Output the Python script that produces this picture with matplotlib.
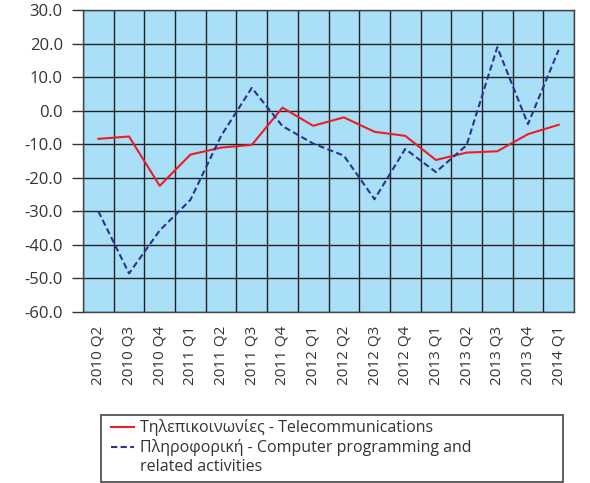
import matplotlib
matplotlib.use("Agg")
import matplotlib.pyplot as plt
from matplotlib.lines import Line2D
from matplotlib.patches import Rectangle
from matplotlib.ticker import FormatStrFormatter

plt.rcParams['font.family'] = ['Open Sans', 'DejaVu Sans']

quarters = ["2010 Q2", "2010 Q3", "2010 Q4", "2011 Q1", "2011 Q2", "2011 Q3",
            "2011 Q4", "2012 Q1", "2012 Q2", "2012 Q3", "2012 Q4", "2013 Q1",
            "2013 Q2", "2013 Q3", "2013 Q4", "2014 Q1"]
telecom = [-8.4, -7.7, -22.4, -13.1, -11.0, -10.2, 0.9, -4.5, -2.0, -6.3,
           -7.5, -14.7, -12.5, -12.1, -7.0, -4.2]
computer = [-30.0, -48.5, -35.7, -26.6, -7.5, 6.8, -4.6, -9.8, -13.4, -26.4,
            -11.4, -18.3, -10.3, 18.9, -4.0, 18.1]
telecom_label = "Τηλεπικοινωνίες - Telecommunications"
computer_label = ["Πληροφορική - Computer programming and",
                  "related activities"]
y_ticks = [30, 20, 10, 0, -10, -20, -30, -40, -50, -60]

RED = "#ee1c25"
NAVY = "#2e3192"
TXT = "#333333"
DASH = (0, (3, 1.6))

W, H = 590, 483
fig = plt.figure(figsize=(W / 100, H / 100), dpi=100)
ax = fig.add_axes([83 / W, 1 - 312 / H, (574 - 83) / W, (312 - 10) / H])
ax.set_facecolor("#aadff8")

n = len(quarters)
x = list(range(n))
ax.plot(x, telecom, color=RED, lw=1.5, zorder=3)
ax.plot(x, computer, color=NAVY, lw=1.5, ls=DASH, zorder=3)

ax.set_xlim(-0.5, n - 0.5)
ax.set_ylim(-60, 30)
ax.set_yticks(y_ticks)
ax.yaxis.set_major_formatter(FormatStrFormatter("%.1f"))
ax.set_xticks(x)
ax.set_xticklabels(quarters, rotation=90)

ax.grid(False)
for v in range(n + 1):
    ax.axvline(v - 0.5, color="#222222", lw=1.0, zorder=1)
for t in y_ticks:
    ax.axhline(t, color="#222222", lw=1.0, zorder=1)

for s in ax.spines.values():
    s.set_color("#444444")
    s.set_linewidth(1.0)

ax.tick_params(axis="y", length=8, width=1, color="#333333",
               labelsize=12, labelcolor=TXT, pad=6.5)
ax.tick_params(axis="x", which="both", length=0, labelsize=11,
               labelcolor=TXT, pad=10)


# legend box drawn in pixel positions of the figure
def fx(px):
    return px / W


def fy(py):
    return 1 - py / H


fig.add_artist(Rectangle((fx(100.5), fy(481.5)), fx(563) - fx(100.5),
                         fy(415) - fy(481.5), transform=fig.transFigure,
                         facecolor="white", edgecolor="#444444", lw=1.2))
rows = [(432, 427, RED, "-", telecom_label),
        (451.5, 446.5, NAVY, DASH, computer_label[0]),
        (471, None, None, None, computer_label[1])]
for base, hy, col, ls, label in rows:
    if col is not None:
        fig.add_artist(Line2D([fx(111), fx(133.5)], [fy(hy), fy(hy)],
                              transform=fig.transFigure, color=col,
                              lw=1.5, ls=ls))
    fig.text(fx(140), fy(base), label, fontsize=11.5, color=TXT,
             ha="left", va="baseline")

fig.savefig("out.png", dpi=100)
